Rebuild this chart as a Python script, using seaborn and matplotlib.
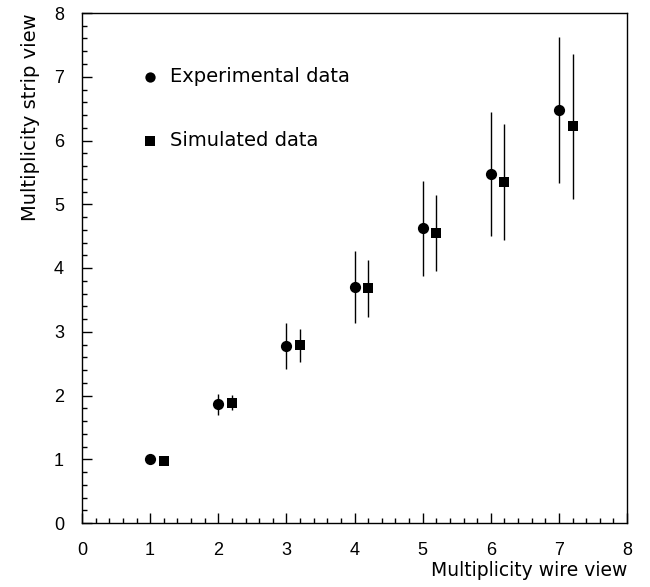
import matplotlib
matplotlib.use("Agg")
import matplotlib.pyplot as plt
from matplotlib.ticker import MultipleLocator
import seaborn as sns
import pandas as pd

# Data
exp_x = [1, 2, 3, 4, 5, 6, 7]
exp_y = [1.00, 1.86, 2.77, 3.70, 4.62, 5.47, 6.48]
exp_err = [0.00, 0.16, 0.36, 0.57, 0.74, 0.97, 1.15]

sim_x = [1.2, 2.2, 3.2, 4.2, 5.2, 6.2, 7.2]
sim_y = [0.98, 1.89, 2.79, 3.68, 4.55, 5.35, 6.22]
sim_err = [0.00, 0.12, 0.26, 0.45, 0.60, 0.91, 1.13]

legend_labels = ["Experimental data", "Simulated data"]
legend_y = [7.0, 6.0]

sns.set_style("ticks")
plt.rcParams['font.family'] = ['Liberation Sans', 'DejaVu Sans']
plt.rcParams['text.color'] = 'black'
plt.rcParams['axes.labelcolor'] = 'black'
plt.rcParams['xtick.color'] = 'black'
plt.rcParams['ytick.color'] = 'black'

fig = plt.figure(figsize=(6.5, 5.87), dpi=100)
ax = fig.add_axes([82/650, 1 - 523/587, (627-82)/650, (523-13)/587])

df_exp = pd.DataFrame({"x": exp_x, "y": exp_y})
df_sim = pd.DataFrame({"x": sim_x, "y": sim_y})

ax.errorbar(exp_x, exp_y, yerr=exp_err, fmt='none', ecolor='black', elinewidth=1.0, capsize=0)
ax.errorbar(sim_x, sim_y, yerr=sim_err, fmt='none', ecolor='black', elinewidth=1.0, capsize=0)
sns.scatterplot(data=df_exp, x="x", y="y", ax=ax, marker='o', s=65, color='black', edgecolor='black', linewidth=0, zorder=3)
sns.scatterplot(data=df_sim, x="x", y="y", ax=ax, marker='s', s=55, color='black', edgecolor='black', linewidth=0, zorder=3)

# Legend drawn inside as in original
ax.scatter([1.0], [legend_y[0]], marker='o', s=55, color='black', linewidths=0)
ax.scatter([1.0], [legend_y[1]], marker='s', s=45, color='black', linewidths=0)
ax.text(1.29, legend_y[0], legend_labels[0], fontsize=14, va='center', ha='left', family='DejaVu Sans', color='black')
ax.text(1.29, legend_y[1], legend_labels[1], fontsize=14, va='center', ha='left', family='DejaVu Sans', color='black')

ax.set_xlim(0, 8)
ax.set_ylim(0, 8)
ax.xaxis.set_major_locator(MultipleLocator(1))
ax.yaxis.set_major_locator(MultipleLocator(1))
ax.xaxis.set_minor_locator(MultipleLocator(0.2))
ax.yaxis.set_minor_locator(MultipleLocator(0.2))
ax.tick_params(which='both', direction='in', top=False, right=False, labelsize=13, width=1.0,
               colors='black', labelcolor='black')
ax.tick_params(which='major', length=7, pad=13)
ax.tick_params(axis='x', which='major', pad=14)
ax.tick_params(which='minor', length=3.6)
for sp in ax.spines.values():
    sp.set_visible(True)
    sp.set_linewidth(1.0)
    sp.set_color('black')

ax.set_xlabel("Multiplicity wire view", fontsize=13.5, loc='right', labelpad=1, family='DejaVu Sans', color='black')
ax.set_ylabel("Multiplicity strip view", fontsize=14, loc='top', labelpad=10, family='DejaVu Sans', color='black')

fig.savefig("out.png", dpi=100)
